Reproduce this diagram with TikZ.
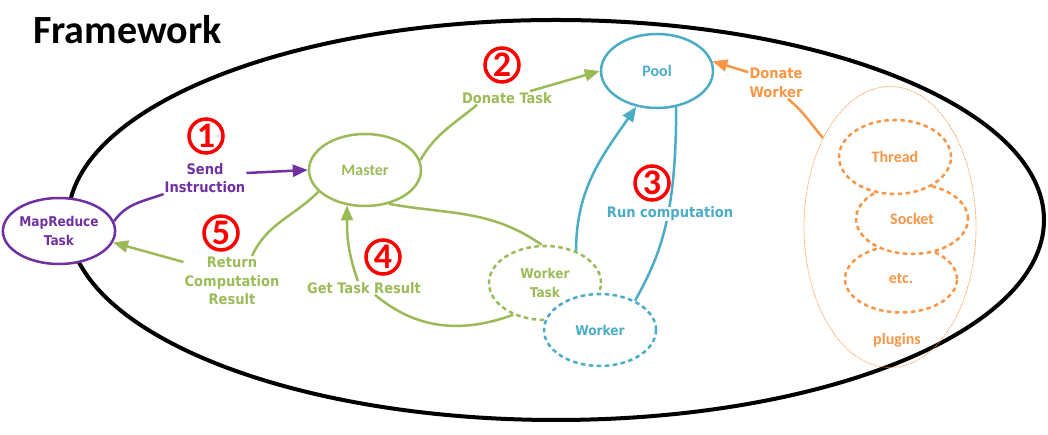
\documentclass[tikz,border=0pt]{standalone}
\usepackage{fontspec}
\usetikzlibrary{shapes.geometric,arrows.meta}
\newfontfamily\calfont{Carlito}
\newfontfamily\tahfont{DejaVu Sans Condensed}
\definecolor{cpur}{HTML}{7030A0}
\definecolor{cgrn}{HTML}{9BBB59}
\definecolor{cblu}{HTML}{4BACC6}
\definecolor{corg}{HTML}{F79646}
\definecolor{cred}{HTML}{FF0000}
\begin{document}
\begin{tikzpicture}[x=1pt,y=1pt,
  nd/.style={ellipse, draw, fill=white, line width=2.5pt, inner sep=0pt, align=center},
  calN/.style={font=\calfont\bfseries\fontsize{16}{18}\selectfont},
  tahN/.style={font=\tahfont\bfseries\fontsize{13.5}{18.5}\selectfont},
  lbl/.style={font=\tahfont\bfseries\fontsize{14.5}{18.5}\selectfont, align=center, inner sep=1pt},
  dsh/.style={dash pattern=on 4.5pt off 3.5pt},
  conn/.style={line width=2.5pt},
  arr/.style={-{Triangle[length=15pt,width=12pt]}},
  num/.style={circle, draw=cred, line width=3.5pt, minimum size=34pt, inner sep=0pt, text=cred,
              font=\calfont\bfseries\fontsize{36}{36}\selectfont}
]
\useasboundingbox (0,0) rectangle (1048,435);
% frame
\node[ellipse, draw=black, line width=4pt, minimum width=976pt, minimum height=400pt, inner sep=0pt] (frame) at (556,215) {};
\node[anchor=base west, inner sep=0pt, font=\calfont\bfseries\fontsize{40}{40}\selectfont] (title) at (33,391) {Framework};

% nodes
\node[nd, draw=cpur, text=cpur, tahN, minimum width=112pt, minimum height=66pt] (task) at (59,204) {MapReduce\\Task};
\node[nd, draw=cgrn, text=cgrn, calN, minimum width=112pt, minimum height=72pt] (master) at (365,265) {Master};
\node[nd, draw=cblu, text=cblu, calN, minimum width=112pt, minimum height=74pt] (pool) at (657,364) {Pool};
\node[nd, draw=cgrn, text=cgrn, tahN, dsh, minimum width=112pt, minimum height=74pt] (wtask) at (545,152) {Worker\\Task};
\node[nd, draw=cblu, text=cblu, tahN, dsh, minimum width=112pt, minimum height=72pt] (worker) at (600,105) {Worker};

\node[ellipse, draw=corg, line width=0.8pt, dash pattern=on 1pt off 1pt, minimum width=172pt, minimum height=281pt, inner sep=0pt] (plugins) at (890,208) {};
\node[nd, draw=corg, text=corg, calN, dsh, minimum width=112pt, minimum height=67pt] (etcn) at (901,156) {etc.};
\node[nd, draw=corg, text=corg, calN, dsh, minimum width=112pt, minimum height=70pt] (socket) at (912,216) {Socket};
\node[nd, draw=corg, text=corg, calN, dsh, minimum width=112pt, minimum height=74pt] (thread) at (895,278) {Thread};
\node[calN, text=corg, inner sep=0pt] (plugL) at (897,95) {plugins};

% labels
\node[lbl, text=cpur] (sendL) at (205,257) {Send\\Instruction};
\node[lbl, text=cgrn] (retL) at (232,154) {Return\\Computation\\Result};
\node[lbl, text=cgrn] (donL) at (507,337) {Donate Task};
\node[lbl, text=cgrn] (getL) at (364,147) {Get Task Result};
\node[lbl, text=corg] (dwL) at (776,352) {Donate\\Worker};

% numbers
\node[num] (n1) at (206,299) {1};
\node[num] (n2) at (502,370) {2};
\node[num] (n3) at (652,252) {3};
\node[num] (n4) at (383,178) {4};
\node[num] (n5) at (221,202) {5};

% connectors
\draw[conn, cpur] (task.10) to[out=55,in=200] (sendL.south west);
\draw[conn, cpur, arr] ([yshift=5pt]sendL.east) -- (master.west);

\draw[conn, cgrn] (master.205) to[out=225,in=65] ([xshift=20pt]retL.north);
\draw[conn, cgrn, arr] ([yshift=19pt]retL.west) -- (task.-12);

\draw[conn, cgrn] (master.10) to[out=60,in=220] ([xshift=-30pt]donL.south);
\draw[conn, cgrn, arr] ([xshift=23pt]donL.north) -- (pool.west);

\draw[conn, cblu, arr] (wtask.46) to[out=90,in=235] (pool.-120);
\draw[conn, cblu] (pool.-62) .. controls +(0,-110) and +(25,45) .. (worker.40);
\node[lbl, text=cblu, fill=white, inner sep=0pt] (runL) at (670,221) {Run computation};

\draw[conn, cgrn] (master.-55) to[out=-10,in=145] (wtask.95);
\draw[conn, cgrn] (wtask.225) to[out=200,in=-40] ([xshift=11pt]getL.south);
\draw[conn, cgrn, arr] ([xshift=-6pt]getL.north) to[out=110,in=-90] (master.-117);

\draw[conn, corg] (plugins.127) to[out=130,in=-40] ([xshift=12pt]dwL.south);
\draw[conn, corg, arr] ([yshift=-5pt]dwL.north west) -- (pool.10);
\end{tikzpicture}
\end{document}
